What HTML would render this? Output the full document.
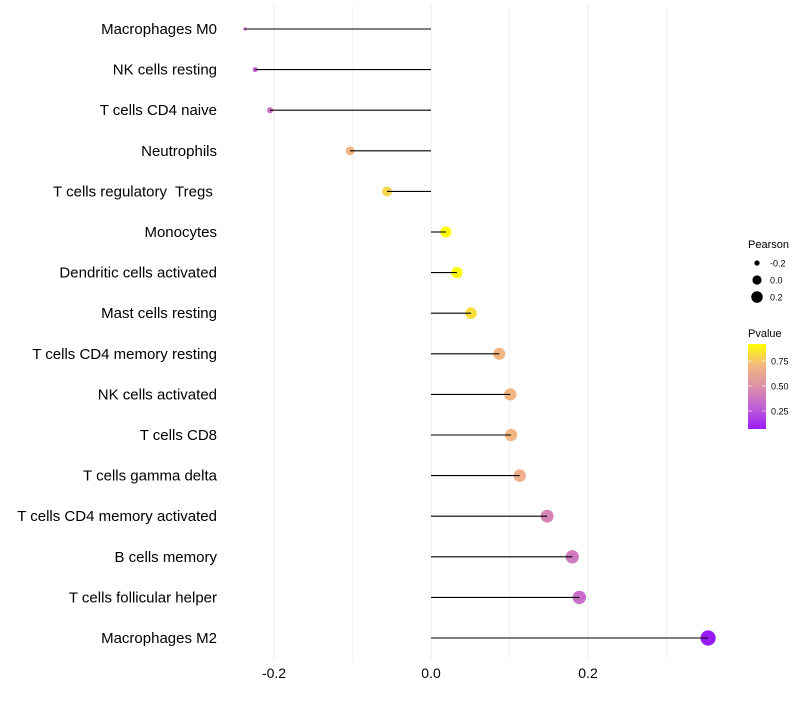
<!DOCTYPE html>
<html><head><meta charset="utf-8"><style>
body{margin:0;background:#fff;font-family:"Liberation Sans",sans-serif}
</style></head><body>
<svg id="chart" width="800" height="700" xmlns="http://www.w3.org/2000/svg"></svg>
<script>
const categories=["Macrophages M0","NK cells resting","T cells CD4 naive","Neutrophils","T cells regulatory  Tregs ","Monocytes","Dendritic cells activated","Mast cells resting","T cells CD4 memory resting","NK cells activated","T cells CD8","T cells gamma delta","T cells CD4 memory activated","B cells memory","T cells follicular helper","Macrophages M2"];
const pearson=[-0.237,-0.224,-0.205,-0.103,-0.056,0.019,0.033,0.051,0.087,0.101,0.102,0.113,0.148,0.180,0.189,0.353];
const pvalues=[0.30,0.30,0.35,0.70,0.80,0.92,0.90,0.82,0.70,0.70,0.70,0.66,0.45,0.40,0.35,0.08];
const xTicks=[-0.2,0.0,0.2];
const xTickLabels=["-0.2","0.0","0.2"];
const sizeLegend=[-0.2,0.0,0.2];
const colorLegend=[0.25,0.50,0.75];

const NS="http://www.w3.org/2000/svg";
const svg=document.getElementById('chart');
function el(t,a,p){const e=document.createElementNS(NS,t);for(const k in a)e.setAttribute(k,a[k]);(p||svg).appendChild(e);return e;}
const x=v=>431+v*785;
const y=i=>29+i*40.6;
const r=v=>1.6+6*Math.sqrt(Math.max(0,(v+0.237)/0.59));
const stops=[[0,[154,26,245]],[0.25,[192,96,216]],[0.5,[220,144,168]],[0.75,[242,184,128]],[1,[255,255,0]]];
function col(p){let t=(p-0.08)/0.84;t=Math.max(0,Math.min(1,t));for(let i=1;i<stops.length;i++){if(t<=stops[i][0]){const a=stops[i-1],b=stops[i];const f=(t-a[0])/(b[0]-a[0]);const c=a[1].map((v,k)=>Math.round(v+(b[1][k]-v)*f));return `rgb(${c})`;}}return 'rgb(255,255,0)';}
[-0.2,-0.1,0,0.1,0.2,0.3].forEach(v=>{const g=el('line',{x1:x(v),x2:x(v),y1:5,y2:660,stroke:'#ebebeb','stroke-width':Math.abs(Math.round(v*10))%2===0?1:0.6});

});
categories.forEach((c,i)=>{
 const t=el('text',{x:217,y:y(i)+5,'text-anchor':'end','font-size':15,fill:'#000',style:'white-space:pre'});t.textContent=c;
 
 
 const pt=el('circle',{cx:x(pearson[i]),cy:y(i),r:r(pearson[i]),fill:col(pvalues[i])});
 
 
 const ln=el('line',{x1:x(0),x2:x(pearson[i]),y1:y(i),y2:y(i),stroke:'#000','stroke-width':1.1});
 
 
});
xTicks.forEach((v,i)=>{const t=el('text',{x:x(v),y:678,'text-anchor':'middle','font-size':14,fill:'#000'});t.textContent=xTickLabels[i];

});
let t=el('text',{x:748,y:248,'font-size':11,fill:'#000'});t.textContent='Pearson';


sizeLegend.forEach((v,i)=>{const cy=263+i*17;
 const c=el('circle',{cx:757,cy:cy,r:r(v)*0.85,fill:'#000'});
 
 
 const l=el('text',{x:770,y:cy+3.5,'font-size':9,fill:'#000'});l.textContent=v===0?'0.0':String(v);
 
 });
t=el('text',{x:748,y:337,'font-size':11,fill:'#000'});t.textContent='Pvalue';


const defs=el('defs',{});const lg=el('linearGradient',{id:'pg',x1:0,y1:1,x2:0,y2:0},defs);
stops.forEach(s=>el('stop',{offset:s[0],'stop-color':`rgb(${s[1]})`},lg));
const bar=el('rect',{x:748,y:344,width:18,height:85,fill:'url(#pg)'});


colorLegend.forEach(v=>{const yy=344+(0.92-v)*100;
 el('line',{x1:748,x2:752,y1:yy,y2:yy,stroke:'#fff','stroke-opacity':0.6});
 el('line',{x1:762,x2:766,y1:yy,y2:yy,stroke:'#fff','stroke-opacity':0.6});
 const l=el('text',{x:771,y:yy+3.5,'font-size':9,fill:'#000'});l.textContent=v.toFixed(2);
 
 });
</script>
</body></html>
